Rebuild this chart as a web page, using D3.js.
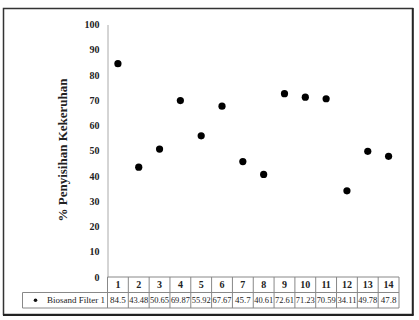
<!DOCTYPE html>
<html lang="id">
<head>
<meta charset="UTF-8">
<title>% Penyisihan Kekeruhan</title>
<script src="https://cdn.jsdelivr.net/npm/d3@7"></script>
<style>
  body { margin: 0; background: #fff; }
  text { font-family: "Liberation Serif", "DejaVu Serif", serif; fill: #222; }
</style>
</head>
<body>
<script>
    let w = 419, h = 320;

    // data
    let categories = [1, 2, 3, 4, 5, 6, 7, 8, 9, 10, 11, 12, 13, 14];
    let values = [84.5, 43.48, 50.65, 69.87, 55.92, 67.67, 45.7, 40.61, 72.61, 71.23, 70.59, 34.11, 49.78, 47.8];
    let valueLabels = ["84.5", "43.48", "50.65", "69.87", "55.92", "67.67", "45.7", "40.61", "72.61", "71.23", "70.59", "34.11", "49.78", "47.8"];
    let seriesName = "Biosand Filter 1";
    let yTicks = [0, 10, 20, 30, 40, 50, 60, 70, 80, 90, 100];

    let plot = { left: 107.5, right: 399, top: 24.5, bottom: 277 };
    let rowH = 15.5;

    let svg = d3.select("body")
        .append("svg")
        .attr("width", w)
        .attr("height", h);

    // outer frame
    svg.append("rect")
        .attr("x", 3.5).attr("y", 8.5)
        .attr("width", 409).attr("height", 306)
        .attr("fill", "none")
        .attr("stroke", "#333")
        .attr("stroke-width", 1.5);
    svg.append("line")
        .attr("x1", 3).attr("x2", 413.5)
        .attr("y1", 315).attr("y2", 315)
        .attr("stroke", "#222").attr("stroke-width", 2);
    svg.append("line")
        .attr("x1", 413).attr("x2", 413)
        .attr("y1", 8).attr("y2", 315.5)
        .attr("stroke", "#222").attr("stroke-width", 1.5);

    let xScale = d3.scaleBand()
        .domain(categories)
        .range([plot.left, plot.right]);

    let yScale = d3.scaleLinear()
        .domain([0, 100])
        .range([plot.bottom, plot.top]);

    // y axis
    let yAxis = d3.axisLeft(yScale)
        .tickValues(yTicks)
        .tickSize(0)
        .tickPadding(8);
    let gy = svg.append("g")
        .attr("transform", "translate(" + plot.left + ",0)")
        .call(yAxis);
    gy.select(".domain").attr("stroke", "#aaa");
    gy.selectAll("text")
        .style("font-size", "10px")
        .style("font-weight", "bold")
        .attr("fill", "#333");

    // y title
    svg.append("text")
        .attr("transform", "translate(67,150) rotate(-90)")
        .attr("text-anchor", "middle")
        .style("font-size", "13px")
        .style("font-weight", "bold")
        .text("% Penyisihan Kekeruhan");

    // data table under the axis
    let tableColor = "#888";
    let table = svg.append("g");

    table.append("line")
        .attr("x1", plot.left).attr("x2", plot.right)
        .attr("y1", plot.bottom).attr("y2", plot.bottom)
        .attr("stroke", tableColor);
    table.append("line")
        .attr("x1", 22.5).attr("x2", plot.right)
        .attr("y1", plot.bottom + rowH).attr("y2", plot.bottom + rowH)
        .attr("stroke", tableColor);
    table.append("line")
        .attr("x1", 22.5).attr("x2", plot.right)
        .attr("y1", plot.bottom + 2 * rowH).attr("y2", plot.bottom + 2 * rowH)
        .attr("stroke", tableColor);
    table.append("line")
        .attr("x1", 22.5).attr("x2", 22.5)
        .attr("y1", plot.bottom + rowH).attr("y2", plot.bottom + 2 * rowH)
        .attr("stroke", tableColor);

    let edges = categories.map(function(d) { return xScale(d); }).concat([plot.right]);
    table.selectAll("line.col")
        .data(edges)
        .enter()
        .append("line")
        .attr("class", "col")
        .attr("x1", function(d) { return d; })
        .attr("x2", function(d) { return d; })
        .attr("y1", plot.bottom)
        .attr("y2", plot.bottom + 2 * rowH)
        .attr("stroke", tableColor);

    table.selectAll("text.cat")
        .data(categories)
        .enter()
        .append("text")
        .attr("class", "cat")
        .attr("x", function(d) { return xScale(d) + xScale.bandwidth() / 2; })
        .attr("y", plot.bottom + rowH / 2 + 3.5)
        .attr("text-anchor", "middle")
        .style("font-size", "10px")
        .style("font-weight", "bold")
        .text(function(d) { return d; });

    table.selectAll("text.val")
        .data(valueLabels)
        .enter()
        .append("text")
        .attr("class", "val")
        .attr("x", function(d, i) { return xScale(categories[i]) + xScale.bandwidth() / 2; })
        .attr("y", plot.bottom + rowH * 1.5 + 3)
        .attr("text-anchor", "middle")
        .attr("textLength", function(d) { return d.length > 4 ? 19 : null; })
        .attr("lengthAdjust", "spacingAndGlyphs")
        .style("font-size", "9px")
        .text(function(d) { return d; });

    // legend cell
    table.append("circle")
        .attr("cx", 35.5)
        .attr("cy", plot.bottom + rowH * 1.5)
        .attr("r", 1.8)
        .attr("fill", "#111");
    table.append("text")
        .attr("x", 105)
        .attr("y", plot.bottom + rowH * 1.5 + 3)
        .attr("text-anchor", "end")
        .style("font-size", "9px")
        .text(seriesName);

    // points
    svg.selectAll("circle.pt")
        .data(values)
        .enter()
        .append("circle")
        .attr("class", "pt")
        .attr("cx", function(d, i) { return xScale(categories[i]) + xScale.bandwidth() / 2; })
        .attr("cy", function(d) { return yScale(d); })
        .attr("r", 3.6)
        .attr("fill", "#000");
</script>
</body>
</html>
